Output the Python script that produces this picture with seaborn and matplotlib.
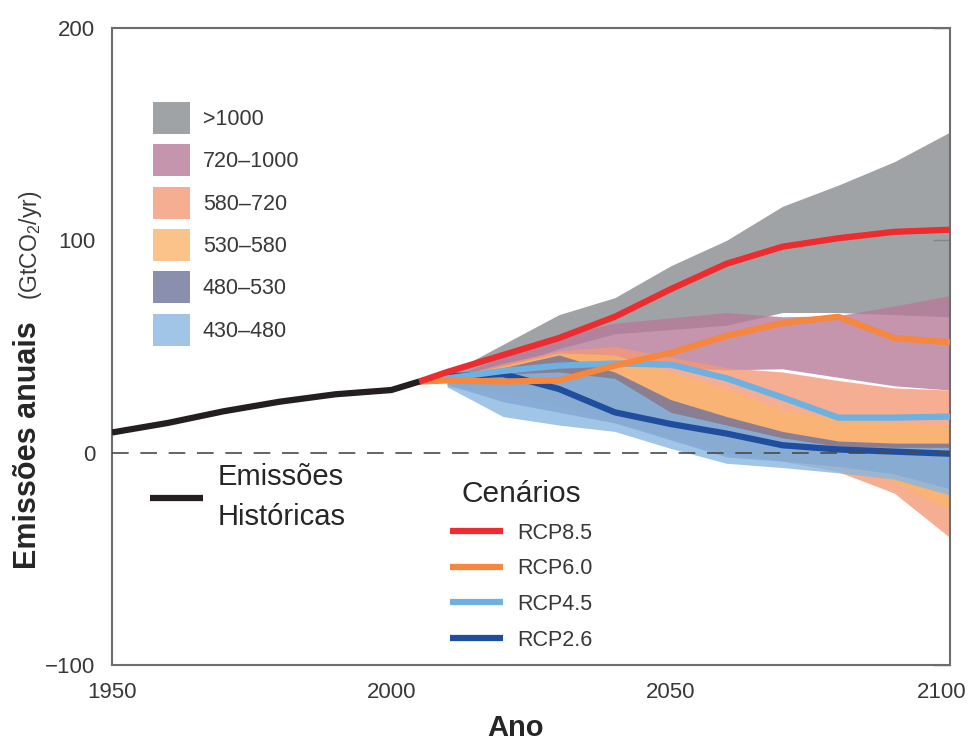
import matplotlib
matplotlib.use("Agg")
import matplotlib.pyplot as plt
import numpy as np
import seaborn as sns
from matplotlib.colors import to_rgb
from matplotlib.lines import Line2D
from matplotlib.patches import Patch
from matplotlib.transforms import ScaledTranslation


# historical emissions (GtCO2/yr)
hist_years = [1950, 1960, 1970, 1980, 1990, 2000, 2005]
hist_values = [9.5, 14, 19.5, 24, 27.5, 29.5, 33.5]

# RCP pathways
rcp_years = [2005, 2010, 2020, 2030, 2040, 2050, 2060, 2070, 2080, 2090, 2100]
rcp85 = [33.5, 38, 46, 54, 64, 77, 89, 97, 101, 104, 105]
rcp60 = [33.5, 34, 33.5, 34, 41, 47, 55, 61, 64, 54, 52]
rcp45 = [33.5, 35, 38.5, 41, 42, 41.5, 35, 26, 16.5, 16.5, 17]
rcp26 = [33.5, 36, 37, 30, 19, 13.5, 9, 3.5, 1.5, 0.5, -0.5]
rcp_labels = ["RCP8.5", "RCP6.0", "RCP4.5", "RCP2.6"]

# scenario ranges per 2100 concentration category (ppm CO2-eq)
band_years = [2010, 2020, 2030, 2040, 2050, 2060, 2070, 2080, 2090, 2100]
band_labels = [">1000", "720–1000", "580–720", "530–580", "480–530", "430–480"]
gt1000_low = [33, 40, 49, 56, 58, 60, 66, 66, 65, 64]
gt1000_high = [37, 51, 65, 73, 88, 100, 116, 126, 137, 151]
c720_low = [34, 37, 40, 41, 40, 39, 39.5, 35.5, 31.5, 29.5]
c720_high = [35, 45, 55, 61, 63.5, 66, 64, 64.5, 69, 74]
c580_low = [31, 28, 22, 14, 7, 0, -4, -9, -19, -40]
c580_high = [35, 42, 48, 50, 45, 40, 38, 34, 30.5, 29.5]
c530_low = [32, 30, 25, 17, 10, 3, -2, -7, -14, -27]
c530_high = [35, 41, 47, 46, 38, 30, 20, 16, 14, 13]
c480_low = [32, 24, 19, 14, 6, -2, -4, -6.5, -10, -17]
c480_high = [35, 40, 46, 38, 25, 17, 10, 5.5, 4.5, 4.5]
c430_low = [31, 17, 13, 10, 2, -5, -7, -9.5, -12.5, -20]
c430_high = [35, 37, 38, 35, 19, 13, 7, 3, 2.5, 2.5]

band_lows = [gt1000_low, c720_low, c580_low, c530_low, c480_low, c430_low]
band_highs = [gt1000_high, c720_high, c580_high, c530_high, c480_high, c430_high]
# colours as they look over white
band_colors = ["#a0a3a6", "#c594ad", "#f6ae92", "#fcc48a", "#8b8fae", "#a0c5e8"]
rcp_colors = ["#ee2b2e", "#f6873d", "#6cb1e1", "#1f4e9f"]
BAND_ALPHA = 0.8


def under_color(hex_color, alpha):
    rgb = np.array(to_rgb(hex_color))
    return tuple(np.clip((rgb - (1 - alpha)) / alpha, 0, 1))


sns.set_style("white")
plt.rcParams["font.family"] = ["Liberation Sans", "DejaVu Sans"]
plt.rcParams["mathtext.fontset"] = "custom"
plt.rcParams["mathtext.rm"] = "Liberation Sans"

fig = plt.figure(figsize=(9.68, 7.42), dpi=100)
ax = fig.add_axes([112 / 968, 1 - 665 / 742, 838 / 968, 637 / 742])

band_handles = []
for low, high, col, lab in zip(band_lows, band_highs, band_colors, band_labels):
    base = under_color(col, BAND_ALPHA)
    ax.fill_between(band_years, low, high, color=base, alpha=BAND_ALPHA, lw=0, zorder=1)
    band_handles.append(Patch(facecolor=base, alpha=BAND_ALPHA, edgecolor="none", label=lab))

ax.axhline(0, color="#4a4a4a", lw=1.2, ls=(0, (10, 7)), zorder=5)

rcp_series = [rcp85, rcp60, rcp45, rcp26]
for vals, col in reversed(list(zip(rcp_series, rcp_colors))):
    sns.lineplot(x=rcp_years, y=vals, color=col, lw=4.5, ax=ax, zorder=3,
                 solid_capstyle="butt")
sns.lineplot(x=hist_years, y=hist_values, color="#231f20", lw=4.5, ax=ax, zorder=4,
             solid_capstyle="butt")

ax.set_xlim(1950, 2100)
ax.set_ylim(-100, 200)
ax.set_xticks([1950, 2000, 2050, 2100])
ax.set_yticks([-100, 0, 100, 200])
ax.set_xlabel("")
ax.set_ylabel("")
ax.tick_params(direction="in", length=12, width=1, color="#6d6d6d", right=True,
               labelsize=16, labelcolor="#383838", pad=12)
for sp in ax.spines.values():
    sp.set_visible(True)
    sp.set_color("#6d6d6d")
    sp.set_linewidth(1.5)

# keep the last year label inside the figure, as in the original
last = ax.get_xticklabels()[-1]
last.set_ha("right")
last.set_transform(last.get_transform() + ScaledTranslation(0.17, 0, fig.dpi_scale_trans))

# concentration category legend
leg1 = ax.legend(handles=band_handles, loc="upper left",
                 bbox_to_anchor=((153 - 112) / 838, (665 - 102) / 637),
                 frameon=False, fontsize=15.5, handlelength=1.72, handleheight=1.91,
                 labelspacing=0.48, handletextpad=0.6, borderpad=0, borderaxespad=0)
for t in leg1.get_texts():
    t.set_color("#383838")
ax.add_artist(leg1)

# historical emissions legend
hist_handle = Line2D([], [], color="#231f20", lw=4.5, solid_capstyle="butt")
leg2 = ax.legend([hist_handle], ["Emissões\nHistóricas"], loc="upper left",
                 bbox_to_anchor=((150 - 112) / 838, (665 - 463) / 637),
                 frameon=False, fontsize=21, handlelength=1.82, handletextpad=0.5,
                 borderpad=0, borderaxespad=0)
for t in leg2.get_texts():
    t.set_linespacing(1.55)
ax.add_artist(leg2)

# scenario legend
rcp_handles = [Line2D([], [], color=c, lw=4.5, solid_capstyle="butt") for c in rcp_colors]
leg3 = ax.legend(rcp_handles, rcp_labels, loc="upper left", title="Cenários",
                 bbox_to_anchor=((450 - 112) / 838, (665 - 480) / 637),
                 frameon=False, fontsize=15.5, title_fontsize=21.5, handlelength=2.45,
                 handletextpad=0.68, labelspacing=0.68, borderpad=0, borderaxespad=0)
for t in leg3.get_texts():
    t.set_color("#383838")

fig.text(28 / 968, 1 - 445 / 742, "Emissões anuais", rotation=90, fontsize=22,
         fontweight="bold", ha="center", va="center")
fig.text(30 / 968, 1 - 245 / 742, "(GtCO$_2$/yr)", rotation=90, fontsize=16.5,
         ha="center", va="center", color="#383838")
fig.text(516 / 968, 1 - 728 / 742, "Ano", fontsize=21, fontweight="bold",
         ha="center", va="center")

fig.savefig("out.png", dpi=100)
